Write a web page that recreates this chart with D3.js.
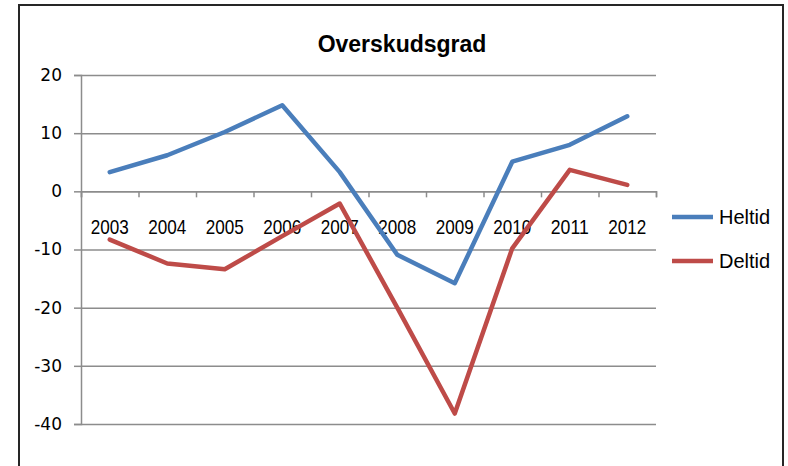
<!DOCTYPE html>
<html>
<head>
<meta charset="utf-8">
<script src="https://cdn.jsdelivr.net/npm/d3@7"></script>
<style>
  body { margin: 0; background: #fff; }
  svg { display: block; }
</style>
</head>
<body>
<div id="chart"></div>
<script>
// data
var years = ["2003","2004","2005","2006","2007","2008","2009","2010","2011","2012"];
var heltid = [3.3, 6.2, 10.2, 14.8, 3.3, -10.9, -15.8, 5.1, 8.0, 12.9];
var deltid = [-8.3, -12.4, -13.4, -7.7, -2.1, -20.0, -38.2, -9.8, 3.7, 1.1];
var yTicks = [20, 10, 0, -10, -20, -30, -40];
var seriesNames = ["Heltid", "Deltid"];
var colors = ["#4A7EBB", "#BE4B48"];

var W = 788, H = 466;
var plot = {left: 81, right: 656, top: 75, bottom: 424};

var svg = d3.select("#chart").append("svg")
  .attr("width", W).attr("height", H);

// outer frame
svg.append("rect")
  .attr("x", 19).attr("y", 5)
  .attr("width", 764).attr("height", 480)
  .attr("fill", "#fff")
  .attr("stroke", "#262626")
  .attr("stroke-width", 2);

var x = d3.scaleBand().domain(years).range([plot.left, plot.right]);
var xEdge = d3.scaleLinear().domain([0, years.length]).range([plot.left, plot.right]);
var y = d3.scaleLinear().domain([-40, 20]).range([plot.bottom, plot.top]);

// gridlines
svg.append("g")
  .attr("transform", "translate(" + plot.left + ",0)")
  .call(d3.axisLeft(y).tickValues(yTicks).tickSize(-(plot.right - plot.left)).tickFormat(""))
  .call(g => g.select(".domain").remove())
  .selectAll("line")
    .attr("stroke", "#8c8c8c")
    .attr("stroke-width", 1.5);

// y axis (plain hyphen for negatives, like the original)
var yAxis = svg.append("g")
  .attr("transform", "translate(" + plot.left + ",0)")
  .call(d3.axisLeft(y).tickValues(yTicks).tickSize(7).tickPadding(12).tickFormat(d => String(d)));
yAxis.select(".domain").attr("stroke", "#8c8c8c").attr("stroke-width", 1.5);
yAxis.selectAll("line").attr("stroke", "#8c8c8c").attr("stroke-width", 1.5);
yAxis.selectAll("text")
  .style("font-family", "DejaVu Sans, sans-serif")
  .style("font-size", "17px")
  .attr("fill", "#000");

// x axis tick marks between categories, sitting on the zero line
var xTicks = svg.append("g")
  .attr("transform", "translate(0," + y(0) + ")")
  .call(d3.axisBottom(xEdge).tickValues(d3.range(years.length + 1)).tickSize(6).tickFormat(""));
xTicks.select(".domain").attr("stroke", "#8c8c8c").attr("stroke-width", 1.5);
xTicks.selectAll("line").attr("stroke", "#8c8c8c").attr("stroke-width", 1.5);

// x labels (narrow, tall digits)
var xLab = svg.append("g")
  .attr("transform", "translate(0," + y(0) + ")")
  .call(d3.axisBottom(x).tickSize(0).tickPadding(28));
xLab.select(".domain").remove();
xLab.selectAll("text")
  .style("font-family", "'Liberation Sans', sans-serif")
  .style("font-size", "21px")
  .attr("textLength", 38)
  .attr("lengthAdjust", "spacingAndGlyphs")
  .attr("fill", "#000");

// lines
var line = d3.line()
  .x((d, i) => x(years[i]) + x.bandwidth() / 2)
  .y(d => y(d));

[heltid, deltid].forEach(function(s, k) {
  svg.append("path")
    .datum(s)
    .attr("d", line)
    .attr("fill", "none")
    .attr("stroke", colors[k])
    .attr("stroke-width", 4.5)
    .attr("stroke-linejoin", "round")
    .attr("stroke-linecap", "round");
});

// title
svg.append("text")
  .attr("x", 402).attr("y", 52)
  .attr("text-anchor", "middle")
  .style("font-family", "'Liberation Sans', sans-serif")
  .style("font-weight", "bold")
  .style("font-size", "23px")
  .text("Overskudsgrad");

// legend
var legend = svg.append("g").selectAll("g")
  .data(seriesNames)
  .enter().append("g")
  .attr("transform", (d, i) => "translate(672," + (217 + i * 44) + ")");
legend.append("line")
  .attr("x1", 0).attr("x2", 41)
  .attr("stroke", (d, i) => colors[i])
  .attr("stroke-width", 4.5);
legend.append("text")
  .attr("x", 47).attr("y", 7)
  .style("font-family", "'Liberation Sans', sans-serif")
  .style("font-size", "20px")
  .text(d => d);
</script>
</body>
</html>
